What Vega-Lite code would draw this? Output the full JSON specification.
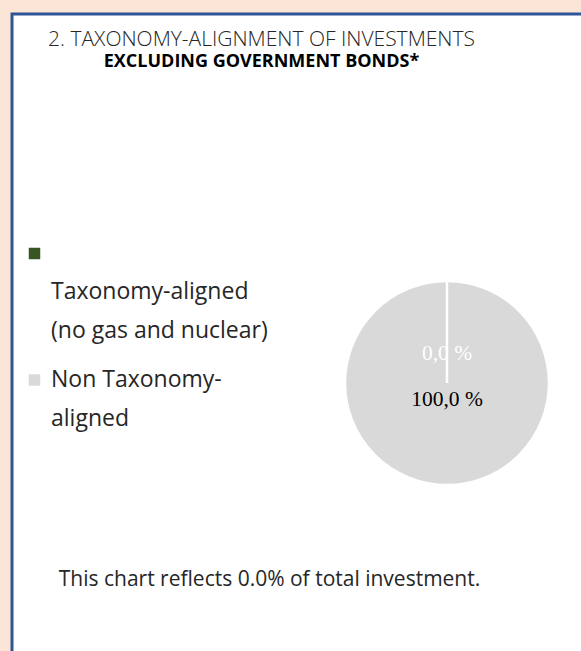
{
  "$schema": "https://vega.github.io/schema/vega-lite/v6.json",
  "width": 575,
  "height": 645,
  "autosize": {"type": "none"},
  "padding": {"left": 12, "top": 14, "right": 0, "bottom": 0},
  "background": "#fbe5d6",
  "title": {
    "text": "2. TAXONOMY-ALIGNMENT OF INVESTMENTS",
    "subtitle": "EXCLUDING GOVERNMENT BONDS*",
    "anchor": "middle",
    "frame": "group",
    "orient": "top",
    "offset": -57,
    "dx": -38,
    "font": "Open Sans",
    "fontSize": 21,
    "fontWeight": 300,
    "color": "#262626",
    "subtitleFont": "Open Sans",
    "subtitleFontSize": 18,
    "subtitleFontWeight": "bold",
    "subtitleColor": "#000000",
    "subtitlePadding": 3
  },
  "data": {
    "values": [
      {"panel": "Excluding government bonds", "category": "Non Taxonomy-aligned", "value": 100.0, "label": "100,0 %"},
      {"panel": "Excluding government bonds", "category": "Taxonomy-aligned (no gas and nuclear)", "value": 0.0, "label": "0,0 %"}
    ]
  },
  "encoding": {
    "x": {
      "field": "panel",
      "type": "nominal",
      "scale": {"type": "point", "align": 0.7565},
      "axis": {
        "title": "This chart reflects 0.0% of total investment.",
        "orient": "bottom",
        "offset": -80,
        "domain": false,
        "ticks": false,
        "labels": false,
        "grid": false,
        "titleFont": "Open Sans",
        "titleFontSize": 21,
        "titleFontWeight": "normal",
        "titleColor": "#262626",
        "titleX": 257,
        "titleAlign": "center",
        "titleBaseline": "alphabetic",
        "titlePadding": 6
      }
    },
    "y": {
      "field": "panel",
      "type": "nominal",
      "scale": {"type": "point", "align": 0.5721},
      "axis": null
    },
    "theta": {"field": "value", "type": "quantitative", "stack": true}
  },
  "layer": [
    {
      "mark": {"type": "arc", "outerRadius": 102, "stroke": "white", "strokeWidth": 2.5},
      "encoding": {
        "color": {
          "field": "category",
          "type": "nominal",
          "scale": {
            "domain": ["Taxonomy-aligned (no gas and nuclear)", "Non Taxonomy-aligned"],
            "range": ["#375623", "#d9d9d9"]
          },
          "legend": {
            "orient": "none",
            "legendX": 11,
            "legendY": 228,
            "title": null,
            "symbolType": "square",
            "symbolSize": 132,
            "symbolStrokeWidth": 0,
            "labelFont": "Open Sans",
            "labelFontSize": 23,
            "labelColor": "#262626",
            "labelLimit": 0,
            "labelOffset": 5,
            "labelBaseline": "middle",
            "rowPadding": 25.5,
            "padding": 0,
            "labelExpr": "datum.label == 'Taxonomy-aligned (no gas and nuclear)' ? ['\u00a0', 'Taxonomy-aligned', '(no gas and nuclear)'] : ['Non Taxonomy-', 'aligned']"
          }
        }
      }
    },
    {
      "mark": {"type": "text", "radius": 29, "font": "Liberation Serif", "fontSize": 21.5, "color": "white"},
      "encoding": {
        "detail": {"field": "category"},
        "text": {"condition": {"test": "datum.category == 'Taxonomy-aligned (no gas and nuclear)'", "field": "label", "type": "nominal"}, "value": ""}
      }
    },
    {
      "mark": {"type": "text", "radius": 17, "font": "Liberation Serif", "fontSize": 21.5, "color": "black"},
      "encoding": {
        "detail": {"field": "category"},
        "text": {"condition": {"test": "datum.category == 'Non Taxonomy-aligned'", "field": "label", "type": "nominal"}, "value": ""}
      }
    }
  ],
  "config": {
    "view": {"fill": "white", "stroke": "#2f5597", "strokeWidth": 3},
    "axis": {"grid": false},
    "style": {"guide-label": {"lineHeight": 38.5}}
  }
}
